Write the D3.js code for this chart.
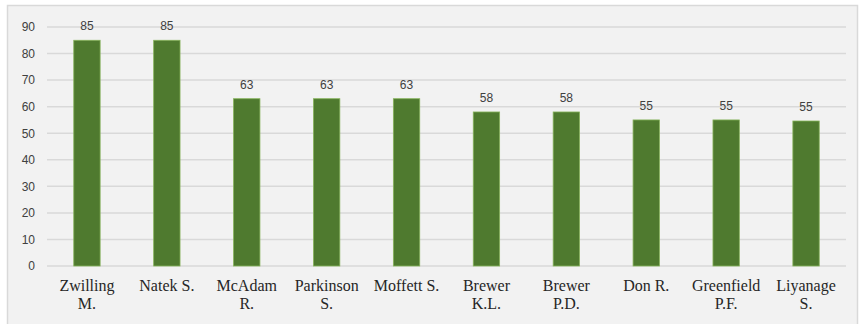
<!DOCTYPE html>
<html>
<head>
<meta charset="utf-8">
<script src="https://cdn.jsdelivr.net/npm/d3@7"></script>
<style>
  html, body { margin: 0; padding: 0; background: #ffffff; }
  svg { display: block; }
</style>
</head>
<body>
<div id="chart"></div>
<script>
// chart data
var names = [
  ["Zwilling", "M."], ["Natek S."], ["McAdam", "R."], ["Parkinson", "S."],
  ["Moffett S."], ["Brewer", "K.L."], ["Brewer", "P.D."], ["Don R."],
  ["Greenfield", "P.F."], ["Liyanage", "S."]
];
var scores = [85, 85, 63, 63, 63, 58, 58, 55, 55, 54.6];
var yTicks = [0, 10, 20, 30, 40, 50, 60, 70, 80, 90];

var width = 860, height = 324;
var margin = { top: 27, right: 14, bottom: 58, left: 47 };

var svg = d3.select("#chart").append("svg")
    .attr("width", width)
    .attr("height", height);

// panel background + frame
svg.append("rect")
    .attr("x", 7.5).attr("y", 5.5)
    .attr("width", width - 10).attr("height", height - 4)
    .attr("fill", "#f2f2f2")
    .attr("stroke", "#d9d9d9")
    .attr("stroke-width", 1.5);

var x = d3.scaleBand()
    .domain(d3.range(names.length))
    .range([margin.left, width - margin.right])
    .paddingInner(0.67)
    .paddingOuter(0.335);

var y = d3.scaleLinear()
    .domain([0, 90])
    .range([height - margin.bottom, margin.top]);

// gridlines
svg.append("g")
    .selectAll("line")
    .data(yTicks)
    .join("line")
    .attr("x1", margin.left)
    .attr("x2", width - margin.right)
    .attr("y1", function (d) { return y(d); })
    .attr("y2", function (d) { return y(d); })
    .attr("stroke", "#d9d9d9")
    .attr("stroke-width", 1.5);

// y axis labels
var yAxis = d3.axisLeft(y).tickValues(yTicks).tickSize(0).tickPadding(0);
svg.append("g")
    .attr("transform", "translate(35,0)")
    .call(yAxis)
    .call(function (g) { g.select(".domain").remove(); })
    .selectAll("text")
    .attr("font-family", "'Liberation Sans', Arial, sans-serif")
    .attr("font-size", 12)
    .attr("fill", "#404040");

// bars
svg.append("g")
    .selectAll("rect")
    .data(scores)
    .join("rect")
    .attr("x", function (d, i) { return x(i); })
    .attr("y", function (d) { return y(d); })
    .attr("width", x.bandwidth())
    .attr("height", function (d) { return y(0) - y(d); })
    .attr("fill", "#4f7a2f")
    .attr("stroke", "#86b35a")
    .attr("stroke-width", 0.8);

// value labels
svg.append("g")
    .selectAll("text")
    .data(scores)
    .join("text")
    .attr("x", function (d, i) { return x(i) + x.bandwidth() / 2; })
    .attr("y", function (d) { return y(d) - 10; })
    .attr("text-anchor", "middle")
    .attr("font-family", "'Liberation Sans', Arial, sans-serif")
    .attr("font-size", 12)
    .attr("fill", "#404040")
    .text(function (d) { return d3.format(".0f")(d); });

// category labels
var cat = svg.append("g")
    .selectAll("text")
    .data(names)
    .join("text")
    .attr("x", function (d, i) { return x(i) + x.bandwidth() / 2; })
    .attr("y", y(0) + 25)
    .attr("text-anchor", "middle")
    .attr("font-family", "'Liberation Serif', 'Times New Roman', serif")
    .attr("font-size", 16)
    .attr("fill", "#262626");

cat.selectAll("tspan")
    .data(function (d) { return d; })
    .join("tspan")
    .attr("x", function () { return d3.select(this.parentNode).attr("x"); })
    .attr("dy", function (d, i) { return i === 0 ? 0 : 18; })
    .text(function (d) { return d; });
</script>
</body>
</html>
